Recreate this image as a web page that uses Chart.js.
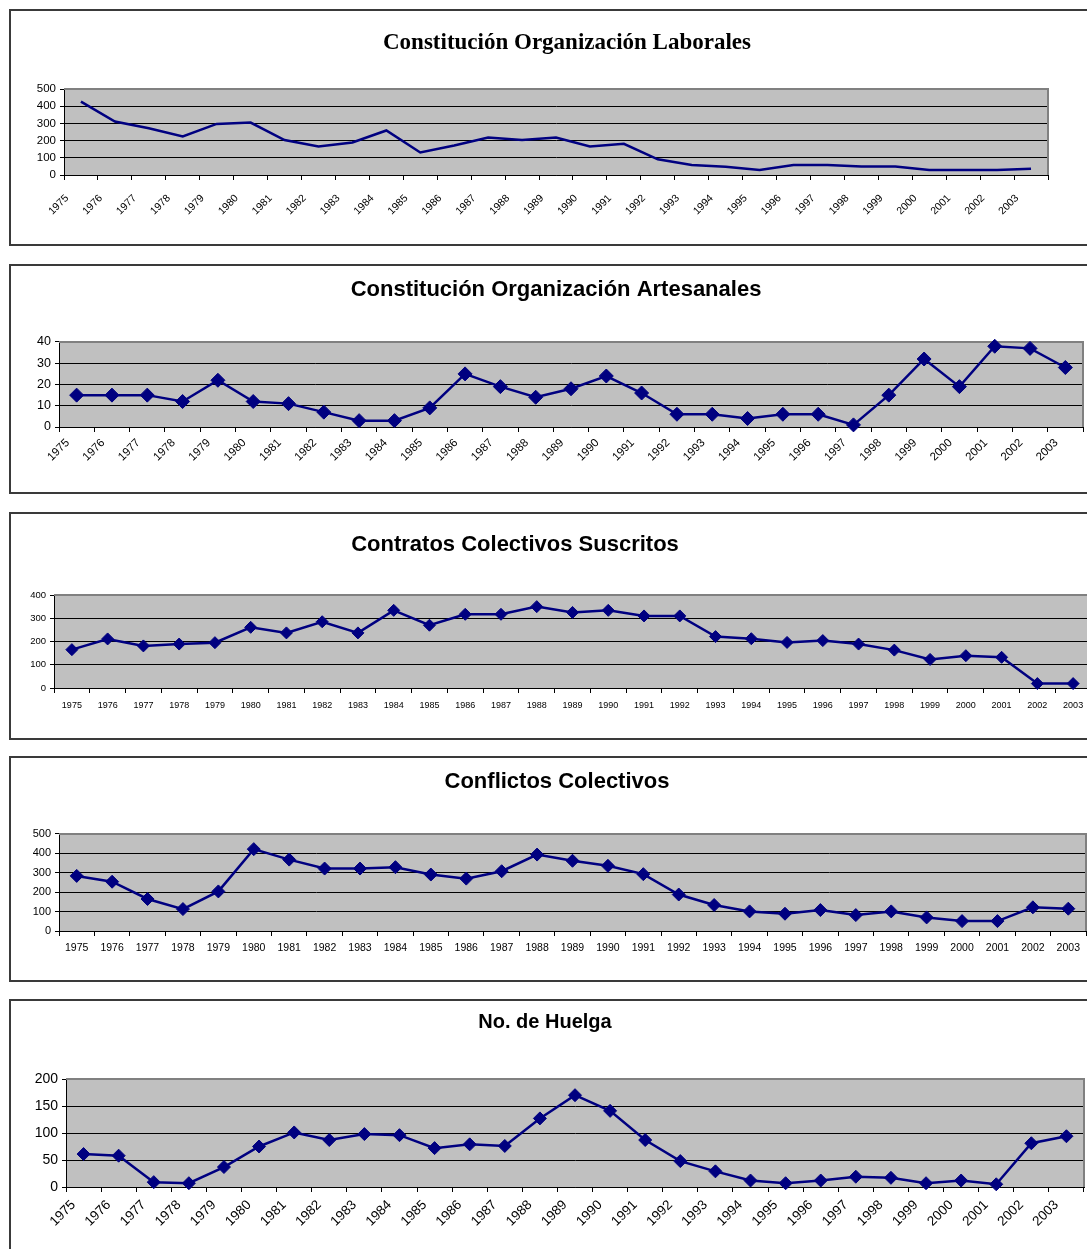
<!DOCTYPE html>
<html lang="es">
<head>
<meta charset="utf-8">
<title>Organizaciones, contratos, conflictos y huelgas 1975-2003</title>
<script src="https://cdn.jsdelivr.net/npm/chart.js@4.4.1/dist/chart.umd.min.js"></script>
<style>
  html, body { margin: 0; padding: 0; background: #fff; overflow: hidden; }
  body { width: 1087px; height: 1249px; position: relative; }
  .panel { position: absolute; left: 9px; width: 1200px; border: 2px solid #3a3a3a; box-sizing: border-box; }
  canvas { position: absolute; left: -100px; }
</style>
</head>
<body>
<div class="panel" style="top:9px;height:237px"></div>
<div class="panel" style="top:264px;height:230px"></div>
<div class="panel" style="top:512px;height:228px"></div>
<div class="panel" style="top:756px;height:226px"></div>
<div class="panel" style="top:999px;height:300px"></div>

<canvas id="laborales" width="1334" height="233" style="top:10px"></canvas>
<canvas id="artesanales" width="1312" height="225" style="top:267px"></canvas>
<canvas id="contratos" width="1230" height="222" style="top:515px"></canvas>
<canvas id="conflictos" width="1314" height="220" style="top:759px"></canvas>
<canvas id="huelgas" width="1290" height="247" style="top:1002px"></canvas>

<script>
// values, one per year
const years = ['1975', '1976', '1977', '1978', '1979', '1980', '1981', '1982', '1983', '1984',
               '1985', '1986', '1987', '1988', '1989', '1990', '1991', '1992', '1993', '1994',
               '1995', '1996', '1997', '1998', '1999', '2000', '2001', '2002', '2003'];

const laborales = [427, 311, 272, 224, 297, 305, 203, 166, 189, 259, 131, 172, 218, 203, 218,
                   166, 181, 91, 58, 48, 29, 58, 58, 50, 50, 29, 29, 29, 37];

const artesanales = [15, 15, 15, 12, 22, 12, 11, 7, 3, 3, 9, 25, 19, 14, 18,
                     24, 16, 6, 6, 4, 6, 6, 1, 15, 32, 19, 38, 37, 28];

const contratos = [165, 211, 181, 189, 195, 261, 237, 285, 237, 334, 270, 317, 317, 350, 325,
                   334, 310, 310, 221, 212, 196, 204, 189, 163, 123, 139, 132, 19, 19];

const conflictos = [284, 254, 165, 113, 204, 422, 368, 322, 322, 329, 291, 270, 308, 394, 362,
                    336, 293, 188, 134, 101, 89, 108, 82, 101, 70, 51, 51, 122, 115];

const huelgas = [61, 58, 9, 7, 37, 75, 101, 87, 98, 96, 72, 79, 76, 127, 170,
                 141, 87, 48, 29, 12, 7, 12, 19, 17, 7, 12, 5, 81, 94];

const NAVY = '#000080';

// grey plot area with the darker frame on top and right, like the old spreadsheet charts
const plotFrame = {
    id: 'plotFrame',
    beforeDraw: (chart) => {
        const { ctx, chartArea: a } = chart;
        ctx.save();
        ctx.fillStyle = '#c0c0c0';
        ctx.fillRect(a.left, a.top, a.right - a.left, a.bottom - a.top);
        ctx.restore();
    },
    beforeDatasetsDraw: (chart) => {
        const { ctx, chartArea: a } = chart;
        ctx.save();
        ctx.strokeStyle = '#808080';
        ctx.lineWidth = 2;
        ctx.beginPath();
        ctx.moveTo(a.left, a.top);
        ctx.lineTo(a.right, a.top);
        ctx.lineTo(a.right, a.bottom);
        ctx.stroke();
        ctx.restore();
    }
};

function makeChart(id, o) {
    new Chart(document.getElementById(id), {
        type: 'line',
        data: {
            labels: years,
            datasets: [{
                data: o.values,
                yAxisID: 'y',
                borderColor: NAVY,
                backgroundColor: NAVY,
                borderWidth: 2.5,
                pointStyle: 'rectRot',
                pointRadius: o.marker,
                pointBorderWidth: 1,
                tension: 0,
                clip: false
            }]
        },
        options: {
            responsive: false,
            animation: false,
            events: [],
            layout: { padding: { top: o.padTop } },
            plugins: {
                legend: { display: false },
                tooltip: { enabled: false },
                title: {
                    display: true,
                    text: o.title,
                    color: '#000',
                    font: o.titleFont,
                    padding: { top: 0, bottom: o.titleGap }
                }
            },
            scales: {
                x: {
                    offset: true,
                    grid: { offset: true, drawOnChartArea: false, tickLength: 5, color: '#000' },
                    border: { color: '#000' },
                    ticks: {
                        autoSkip: false,
                        minRotation: o.rotate,
                        maxRotation: o.rotate,
                        labelOffset: o.labelOffset,
                        padding: o.xPad,
                        color: '#000',
                        font: { family: 'Liberation Sans', size: o.xFont }
                    },
                    afterFit: (s) => { s.height = o.xh; }
                },
                y: {
                    min: 0,
                    max: o.yMax,
                    grid: { color: '#000', tickLength: 4 },
                    border: { color: '#000' },
                    ticks: {
                        stepSize: o.yStep,
                        autoSkip: false,
                        padding: 4,
                        color: '#000',
                        font: { family: 'Liberation Sans', size: o.yFont }
                    },
                    afterFit: (s) => { s.width = o.yw; }
                },
                // empty axis on the right, only keeps the plot clear of the panel edge
                pad: {
                    axis: 'y',
                    position: 'right',
                    grid: { display: false },
                    border: { display: false },
                    ticks: { display: false },
                    afterFit: (s) => { s.width = o.rw; }
                }
            }
        },
        plugins: [plotFrame]
    });
}

const sansTitle = { family: 'Liberation Sans', size: 22, weight: 'bold', lineHeight: 1.2 };

makeChart('laborales', {
    title: 'Constitución Organización Laborales',
    titleFont: { family: 'Liberation Serif', size: 23, weight: 'bold', lineHeight: 1.2 },
    values: laborales, marker: 0, yMax: 500, yStep: 100,
    padTop: 19, titleGap: 32.4, xh: 68, yw: 164, rw: 186,
    rotate: 45, labelOffset: -14, xPad: 12, xFont: 10.5, yFont: 11.5
});

makeChart('artesanales', {
    title: 'Constitución Organización Artesanales',
    titleFont: sansTitle,
    values: artesanales, marker: 7, yMax: 40, yStep: 10,
    padTop: 9.8, titleGap: 38.8, xh: 65, yw: 159, rw: 129,
    rotate: 45, labelOffset: -9, xPad: 4, xFont: 11.5, yFont: 12.5
});

makeChart('contratos', {
    title: 'Contratos Colectivos Suscritos',
    titleFont: sansTitle,
    values: contratos, marker: 6, yMax: 400, yStep: 100,
    padTop: 16.8, titleGap: 36.8, xh: 49, yw: 154, rw: 39,
    rotate: 0, labelOffset: 0, xPad: 7, xFont: 9, yFont: 9.5
});

makeChart('conflictos', {
    title: 'Conflictos Colectivos',
    titleFont: sansTitle,
    values: conflictos, marker: 6.5, yMax: 500, yStep: 100,
    padTop: 9.8, titleGap: 38.8, xh: 48, yw: 159, rw: 128,
    rotate: 0, labelOffset: 0, xPad: 5.5, xFont: 10.5, yFont: 11
});

makeChart('huelgas', {
    title: 'No. de Huelga',
    titleFont: { family: 'Liberation Sans', size: 20, weight: 'bold', lineHeight: 1.2 },
    values: huelgas, marker: 6.5, yMax: 200, yStep: 50,
    padTop: 8.2, titleGap: 44.8, xh: 62, yw: 166, rw: 106,
    rotate: 45, labelOffset: -10, xPad: 5, xFont: 13.5, yFont: 14
});
</script>
</body>
</html>
